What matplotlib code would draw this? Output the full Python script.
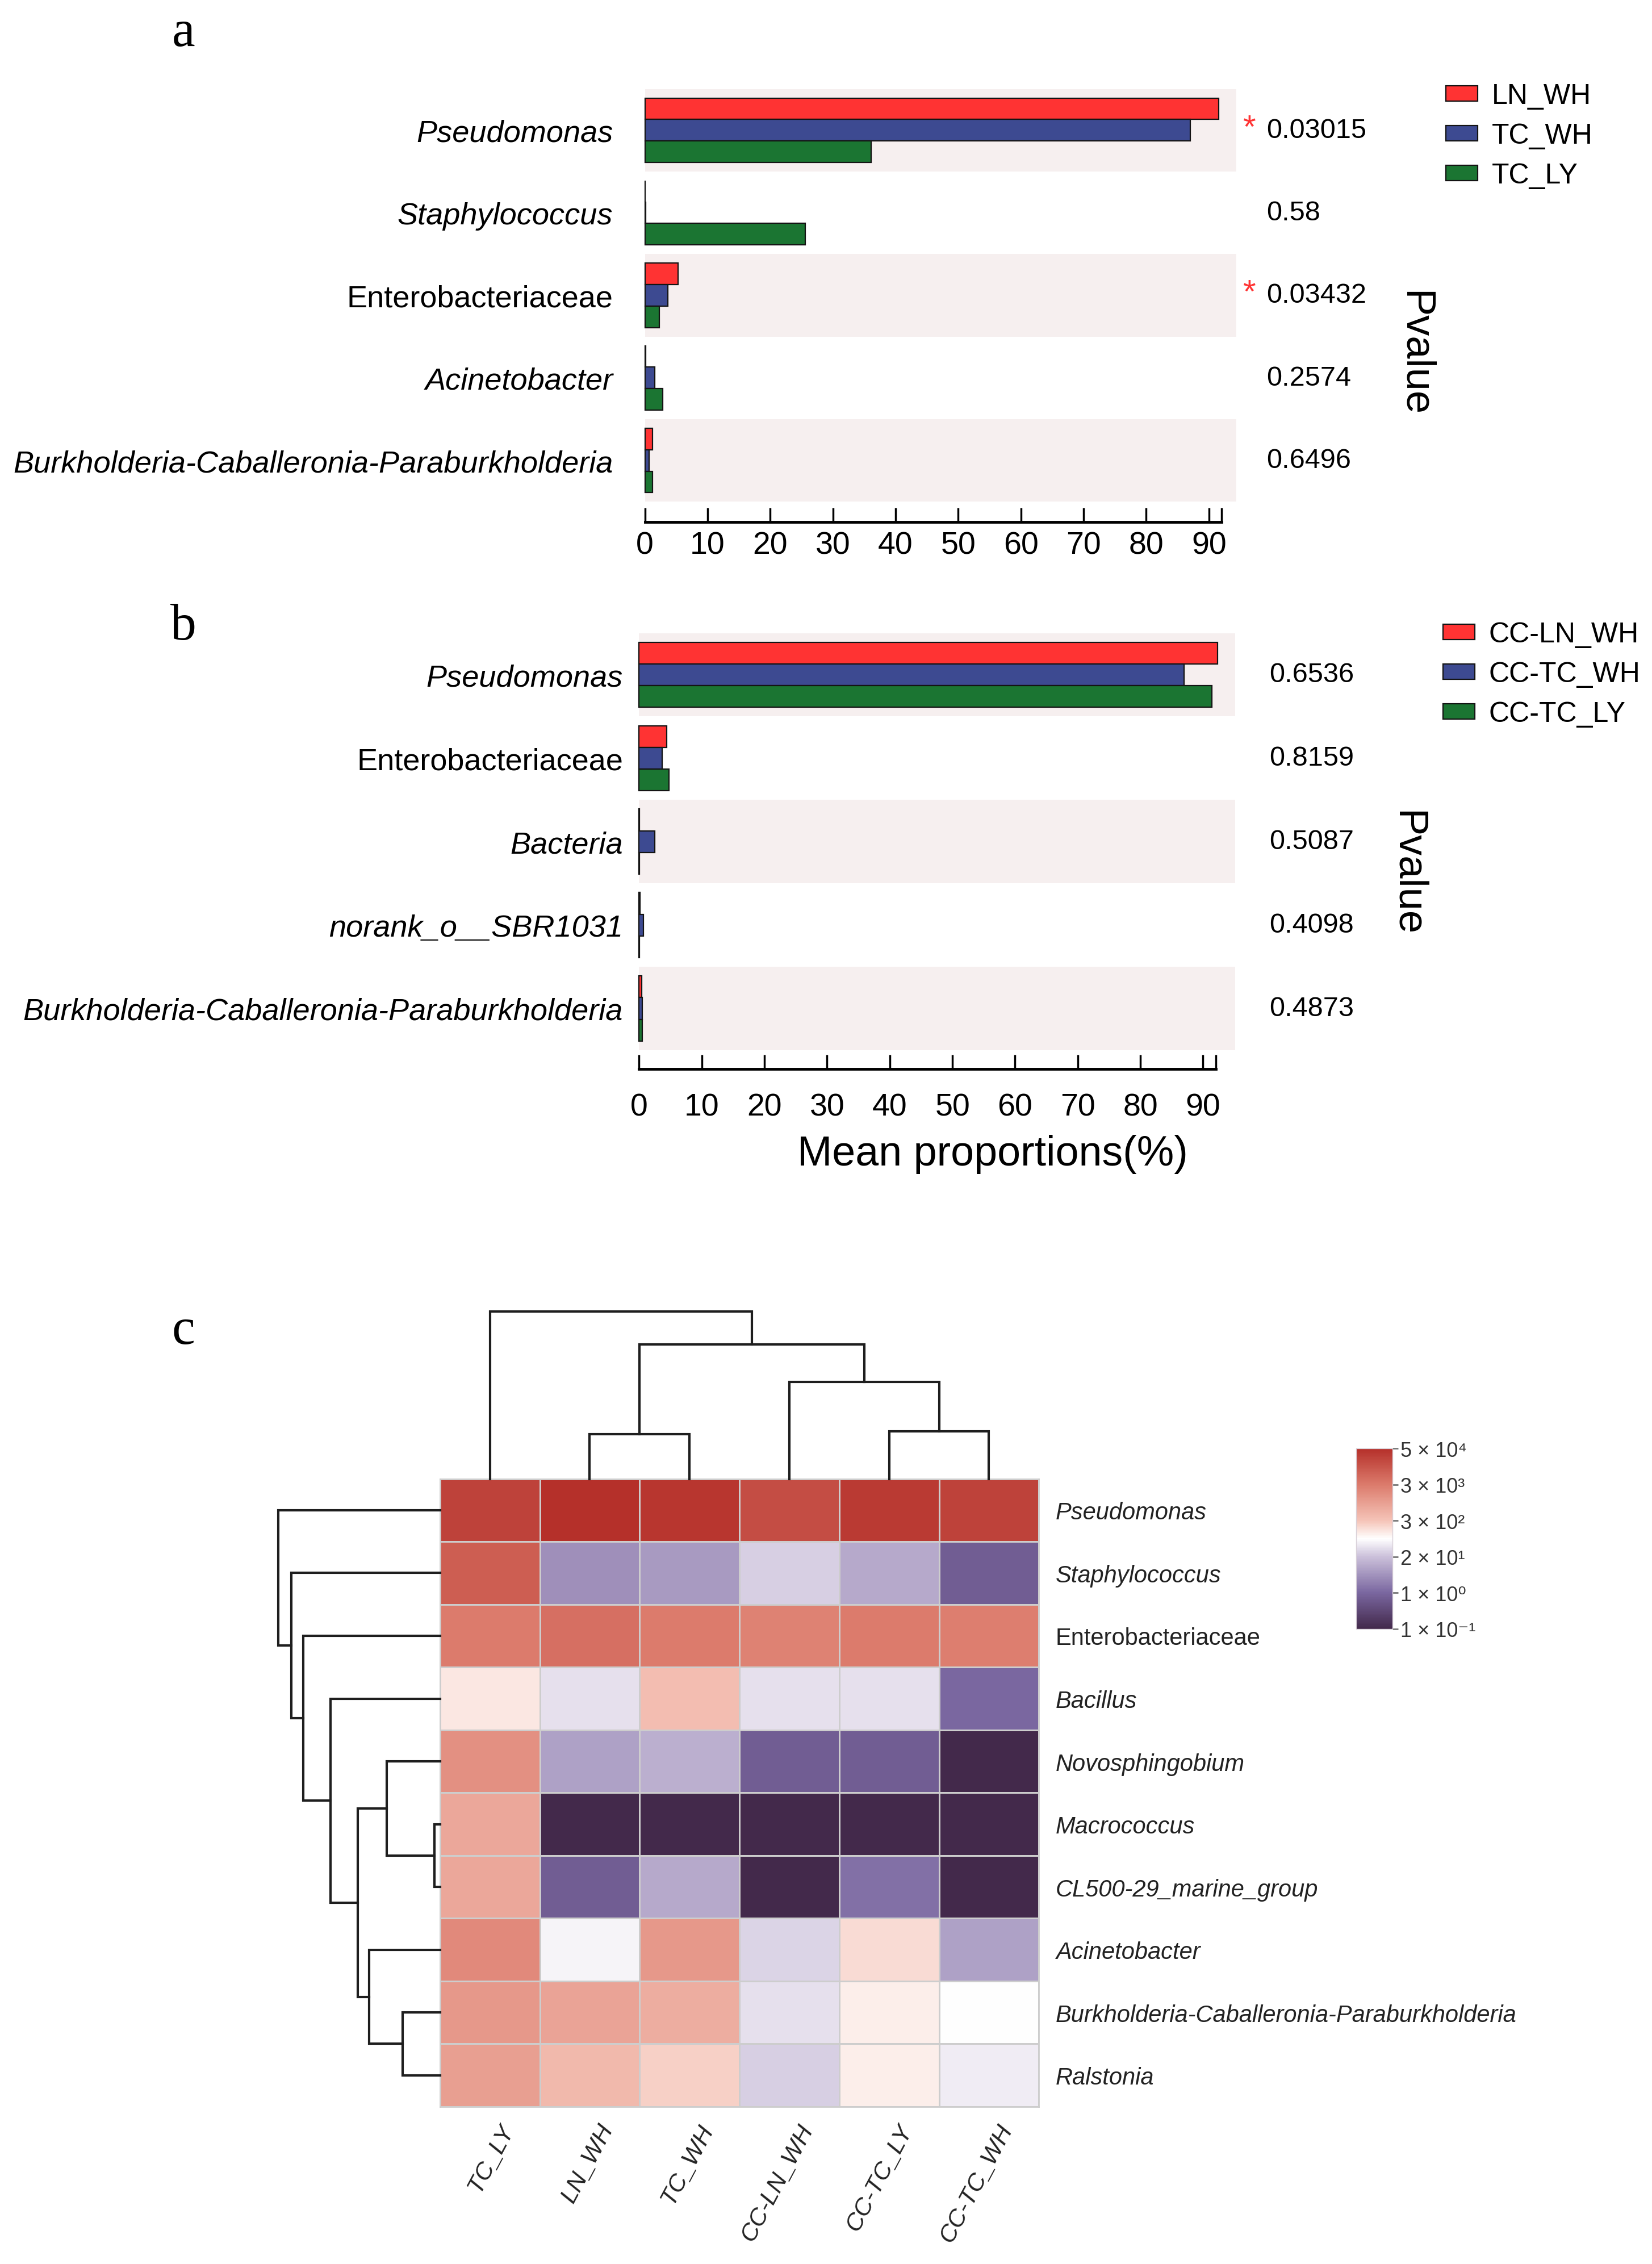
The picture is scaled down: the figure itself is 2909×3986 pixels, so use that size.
import numpy as np
import matplotlib
matplotlib.use('Agg')
import matplotlib.pyplot as plt
import matplotlib.colors as mcolors

plt.rcParams['font.family'] = ['Liberation Sans', 'DejaVu Sans']

# ---------------- data: panel a ----------------
a_taxa = ['Pseudomonas', 'Staphylococcus', 'Enterobacteriaceae', 'Acinetobacter',
          'Burkholderia-Caballeronia-Paraburkholderia']
a_italic = [True, True, False, True, True]
a_groups = ['LN_WH', 'TC_WH', 'TC_LY']
a_LN_WH = [91.6, 0.05, 5.3, 0.1, 1.2]
a_TC_WH = [87.0, 0.1, 3.7, 1.6, 0.7]
a_TC_LY = [36.1, 25.6, 2.3, 2.8, 1.2]
a_pvals = ['0.03015', '0.58', '0.03432', '0.2574', '0.6496']
a_signif = [True, False, True, False, False]

# ---------------- data: panel b ----------------
b_taxa = ['Pseudomonas', 'Enterobacteriaceae', 'Bacteria', 'norank_o__SBR1031',
          'Burkholderia-Caballeronia-Paraburkholderia']
b_italic = [True, False, True, True, True]
b_groups = ['CC-LN_WH', 'CC-TC_WH', 'CC-TC_LY']
b_LN_WH = [92.3, 4.4, 0.05, 0.1, 0.4]
b_TC_WH = [87.0, 3.7, 2.5, 0.7, 0.5]
b_TC_LY = [91.4, 4.8, 0.05, 0.05, 0.5]
b_pvals = ['0.6536', '0.8159', '0.5087', '0.4098', '0.4873']
b_signif = [False, False, False, False, False]

# ---------------- data: panel c (heatmap) ----------------
c_cols = ['TC_LY', 'LN_WH', 'TC_WH', 'CC-LN_WH', 'CC-TC_LY', 'CC-TC_WH']
c_rows = ['Pseudomonas', 'Staphylococcus', 'Enterobacteriaceae', 'Bacillus',
          'Novosphingobium', 'Macrococcus', 'CL500-29_marine_group', 'Acinetobacter',
          'Burkholderia-Caballeronia-Paraburkholderia', 'Ralstonia']
c_row_italic = [True, True, False, True, True, True, True, True, True, True]
c_pseudomonas = [25000, 50000, 38000, 16000, 33000, 25000]
c_staphylococcus = [9000, 4, 5.5, 27, 9.5, 0.7]
c_enterobacteriaceae = [3000, 4600, 3000, 2400, 3000, 2700]
c_bacillus = [133, 39, 380, 39, 39, 1]
c_novosphingobium = [1500, 7, 11, 0.7, 0.7, 0.1]
c_macrococcus = [750, 0.1, 0.1, 0.1, 0.1, 0.1]
c_cl500 = [750, 0.7, 9.5, 0.1, 1.35, 0.1]
c_acinetobacter = [1900, 60, 1200, 31, 175, 7]
c_burkholderia = [1200, 845, 600, 39, 116, 77]
c_ralstonia = [950, 420, 230, 27, 116, 52]

# dendrogram merges (child_a, child_b, height), scipy-like ids
col_merges = [(1, 2, 31), (4, 5, 33), (3, 7, 67), (6, 8, 93), (0, 9, 116)]
row_merges = [(5, 6, 4), (8, 9, 26), (4, 10, 37), (7, 11, 49), (12, 13, 57),
              (3, 14, 76), (2, 15, 95), (1, 16, 103), (0, 17, 112)]

cb_values = [0.1, 1, 20, 300, 3000, 50000]
cb_labels = ['1 × 10⁻¹', '1 × 10⁰', '2 × 10¹', '3 × 10²', '3 × 10³', '5 × 10⁴']

W, H = 1145.0, 1569.0  # layout reference grid


def fx(x):
    return x / W


def fy(y):
    return 1 - y / H


bar_colors = ['#FF3333', '#3D4A91', '#1B7532']


def bar_panel(box, taxa, italic, groups, series, pvals, signif, xmax, ylab_pad,
              spine_off, xlab_pad, pv_x, pval_pos, legend_anchor):
    ax = fig.add_axes(box)
    y = np.arange(len(taxa))
    for i in range(0, len(taxa), 2):
        ax.axhspan(i - 0.5, i + 0.5, color='#F6EFEF', zorder=0, lw=0)
    offs = [-0.26, 0.0, 0.26]
    for vals, off, col, lab in zip(series, offs, bar_colors, groups):
        ax.barh(y + off, vals, height=0.26, color=col, edgecolor='#141414',
                linewidth=1.6, label=lab, zorder=2, clip_on=False)
    ax.set_ylim(len(taxa) - 0.5, -0.5)
    ax.set_xlim(0, xmax)
    for s in ['left', 'top', 'right']:
        ax.spines[s].set_visible(False)
    ax.spines['bottom'].set_position(('outward', spine_off))
    ax.spines['bottom'].set_bounds(0, 92)
    ax.spines['bottom'].set_linewidth(3.5)
    ax.set_xticks(np.arange(0, 91, 10))
    ax.set_xticks([92], minor=True)
    ax.tick_params(axis='x', which='both', direction='in', length=18, width=2.5,
                   labelsize=40, pad=xlab_pad)
    ax.set_yticks(y)
    ax.set_yticklabels(taxa, fontsize=39)
    for t, it in zip(ax.get_yticklabels(), italic):
        t.set_fontstyle('italic' if it else 'normal')
    ax.tick_params(axis='y', left=False, pad=ylab_pad)
    tr = ax.get_yaxis_transform()
    for i, (p, sg) in enumerate(zip(pvals, signif)):
        ax.text(pv_x, i, p, transform=tr, fontsize=35, va='center', ha='left')
        if sg:
            ax.text(pv_x - 0.03, i - 0.02, '*', transform=tr, fontsize=42,
                    color='#FF3333', va='center', ha='center')
    ax.text(pval_pos[0], pval_pos[1], 'Pvalue', transform=ax.transAxes,
            fontsize=52, rotation=270, va='center', ha='center')
    fig.legend(*ax.get_legend_handles_labels(), loc='upper left',
               bbox_to_anchor=legend_anchor, frameon=False, fontsize=36,
               handlelength=1.12, handleheight=0.46, handletextpad=0.5,
               labelspacing=0.48, borderpad=0, borderaxespad=0)
    return ax


fig = plt.figure(figsize=(29.09, 39.87), dpi=100)

ax_a = bar_panel([fx(447), fy(348), fx(857 - 447), (348 - 62) / H],
                 a_taxa, a_italic, a_groups, [a_LN_WH, a_TC_WH, a_TC_LY],
                 a_pvals, a_signif, 94.4, 37, 25.6, 11, 1.051, (1.30, 0.36),
                 (fx(1002), fy(58)))
ax_b = bar_panel([fx(443), fy(728), fx(856 - 443), (728 - 439) / H],
                 b_taxa, b_italic, b_groups, [b_LN_WH, b_TC_WH, b_TC_LY],
                 b_pvals, b_signif, 95.1, 17, 23.8, 30, 1.058, (1.288, 0.426),
                 (fx(1000), fy(431)))
fig.text(fx(688), fy(800), 'Mean proportions(%)', fontsize=53, ha='center', va='center')

for lab, yb in zip(['a', 'b', 'c'], [32, 443, 931]):
    fig.text(fx(127), fy(yb), lab, fontsize=66, family=['Liberation Serif'],
             ha='center', va='baseline')

# ---------------- panel c ----------------
heat = np.array([c_pseudomonas, c_staphylococcus, c_enterobacteriaceae, c_bacillus,
                 c_novosphingobium, c_macrococcus, c_cl500, c_acinetobacter,
                 c_burkholderia, c_ralstonia], dtype=float)

cb_logs = np.log10(cb_values)
cb_pos = np.linspace(0, 1, len(cb_values))


def _fwd(v):
    v = np.clip(np.asarray(v, dtype=float), 1e-6, None)
    return np.interp(np.log10(v), cb_logs, cb_pos)


def _inv(p):
    return 10 ** np.interp(np.asarray(p, dtype=float), cb_pos, cb_logs)


norm = mcolors.FuncNorm((_fwd, _inv), vmin=cb_values[0], vmax=cb_values[-1])
cmap = mcolors.LinearSegmentedColormap.from_list(
    'pr', [(0.0, '#43294B'), (0.2, '#7A67A0'), (0.4, '#CBC0DA'), (0.5, '#FFFFFF'),
           (0.6, '#F5C4B8'), (0.8, '#DC7B6C'), (1.0, '#B5302A')])

axh = fig.add_axes([fx(305), fy(1460), fx(720 - 305), (1460 - 1025) / H])
mesh = axh.pcolormesh(np.arange(len(c_cols) + 1), np.arange(len(c_rows) + 1), heat,
                      cmap=cmap, norm=norm, edgecolors='#CDCDCD', linewidth=2)
axh.set_xlim(0, len(c_cols))
axh.set_ylim(len(c_rows), 0)
for s in axh.spines.values():
    s.set_color('#CDCDCD')
    s.set_linewidth(2)
axh.set_xticks([])
axh.yaxis.tick_right()
axh.set_yticks(np.arange(len(c_rows)) + 0.5)
axh.set_yticklabels(c_rows, fontsize=30, color='#222222')
for t, it in zip(axh.get_yticklabels(), c_row_italic):
    t.set_fontstyle('italic' if it else 'normal')
axh.tick_params(axis='y', right=False, pad=18)
for j, c in enumerate(c_cols):
    axh.text(j + 0.68, len(c_rows) + 0.3, c, rotation=62, rotation_mode='anchor',
             ha='right', va='center', fontsize=31, style='italic', color='#222222',
             clip_on=False)


def draw_dendro(ax, merges, n, orient):
    pos = {i: i + 0.5 for i in range(n)}
    hgt = {i: 0.0 for i in range(n)}
    for k, (a, b, h) in enumerate(merges):
        xs = [pos[a], pos[a], pos[b], pos[b]]
        ys = [hgt[a], h, h, hgt[b]]
        if orient == 'top':
            ax.plot(xs, ys, color='#1E1E1E', lw=3, clip_on=False, solid_joinstyle='miter')
        else:
            ax.plot(ys, xs, color='#1E1E1E', lw=3, clip_on=False, solid_joinstyle='miter')
        pos[n + k] = (pos[a] + pos[b]) / 2
        hgt[n + k] = h
    ax.axis('off')


axt = fig.add_axes([fx(305), fy(1025), fx(720 - 305), (1025 - 908) / H])
draw_dendro(axt, col_merges, len(c_cols), 'top')
axt.set_xlim(0, len(c_cols))
axt.set_ylim(0, 117)

axl = fig.add_axes([fx(192), fy(1460), fx(305 - 192), (1460 - 1025) / H])
draw_dendro(axl, row_merges, len(c_rows), 'left')
axl.set_xlim(113, 0)
axl.set_ylim(len(c_rows), 0)

cax = fig.add_axes([fx(940), fy(1129), fx(965 - 940), (1129 - 1004) / H])
cb = fig.colorbar(mesh, cax=cax, ticks=cb_values)
cb.set_ticklabels(cb_labels)
cb.outline.set_edgecolor('#D8D0D8')
cb.outline.set_linewidth(1)
cax.tick_params(length=7, width=2, color='#777777', labelsize=26,
                labelcolor='#333333', pad=3)
cax.minorticks_off()

fig.savefig('out.png', dpi=100)
